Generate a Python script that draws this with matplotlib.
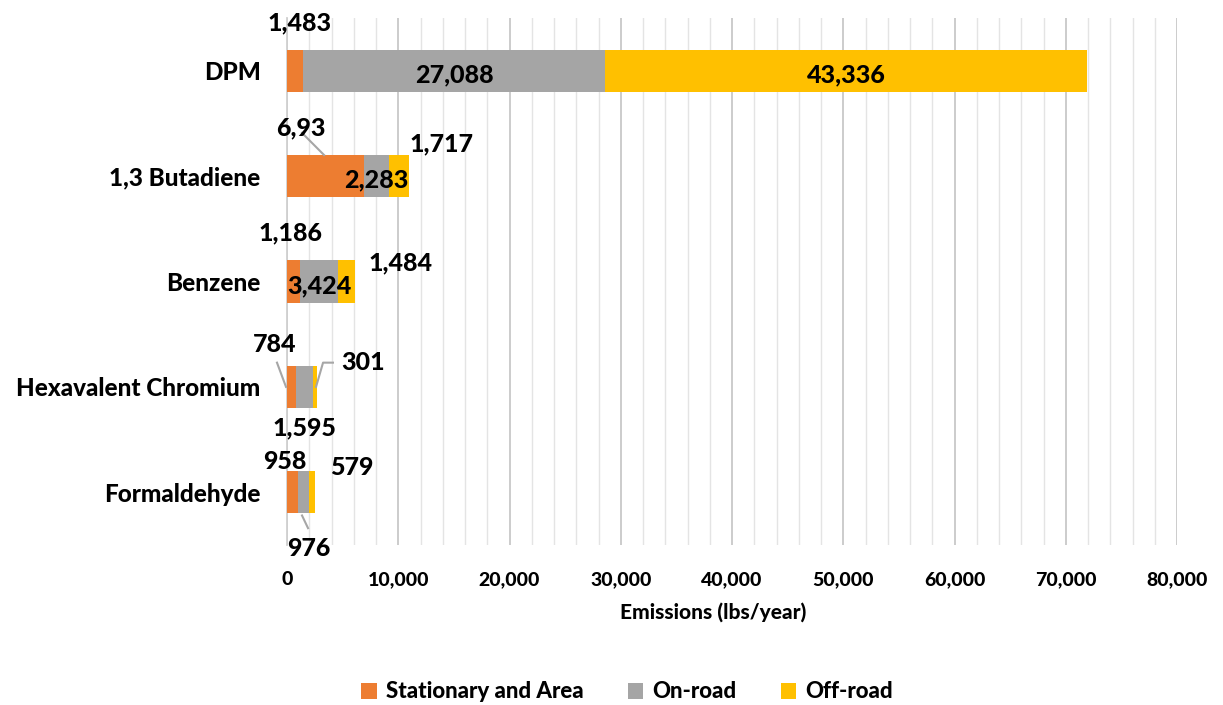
import matplotlib
matplotlib.use("Agg")
import matplotlib.pyplot as plt
from matplotlib.ticker import MultipleLocator, FuncFormatter
from matplotlib.patches import Patch

categories = ["DPM", "1,3 Butadiene", "Benzene", "Hexavalent Chromium", "Formaldehyde"]
series_names = ["Stationary and Area", "On-road", "Off-road"]
stationary = [1483, 6930, 1186, 784, 958]
onroad = [27088, 2283, 3424, 1595, 976]
offroad = [43336, 1717, 1484, 301, 579]
label_text = {
    "stationary": ["1,483", "6,93", "1,186", "784", "958"],
    "onroad": ["27,088", "2,283", "3,424", "1,595", "976"],
    "offroad": ["43,336", "1,717", "1,484", "301", "579"],
}
colors = ["#ED7D31", "#A5A5A5", "#FFC000"]

FONT = "Lato"
W = "black"
plt.rcParams["font.family"] = [FONT, "DejaVu Sans"]
plt.rcParams["font.weight"] = "bold"

fig = plt.figure(figsize=(12.23, 7.05), dpi=100)
ax = fig.add_axes([287/1223, 1-545/705, (1177-287)/1223, (545-18)/705])

y = list(range(len(categories)))
h = 0.4
left2 = [a for a in stationary]
left3 = [a + b for a, b in zip(stationary, onroad)]
ax.barh(y, stationary, height=h, color=colors[0], zorder=3)
ax.barh(y, onroad, height=h, left=left2, color=colors[1], zorder=3)
ax.barh(y, offroad, height=h, left=left3, color=colors[2], zorder=3)

ax.set_xlim(0, 80000)
ax.set_ylim(4.5, -0.5)
ax.xaxis.set_major_locator(MultipleLocator(10000))
ax.xaxis.set_minor_locator(MultipleLocator(2000))
ax.xaxis.set_major_formatter(FuncFormatter(lambda v, p: f"{int(v):,}"))
ax.grid(axis="x", which="major", color="#C8C8C8", lw=1.3, zorder=0)
ax.grid(axis="x", which="minor", color="#E4E4E4", lw=1.0, zorder=0)
ax.set_axisbelow(True)
for s in ["top", "right", "bottom"]:
    ax.spines[s].set_visible(False)
ax.spines["left"].set_color("#D0D0D0")
ax.spines["left"].set_linewidth(1.3)
ax.tick_params(axis="both", which="both", length=0)
ax.tick_params(axis="x", pad=19, labelsize=14)
ax.tick_params(axis="y", pad=19, labelsize=17.5)
ax.set_yticks(y)
ax.set_yticklabels(categories)
for t in ax.get_xticklabels() + ax.get_yticklabels():
    t.set_fontweight(W)
    t.set_color("#000000")

fs = 18
def lab(txt, x, yy):
    ax.text(x, yy, txt, ha="center", va="center", fontsize=fs, fontweight=W, color="black", zorder=5, clip_on=False)

def leader(xs, ys):
    ax.plot(xs, ys, color="#A6A6A6", lw=1.5, zorder=4, clip_on=False)

# DPM
lab(label_text["stationary"][0], 1170, -0.45)
lab(label_text["onroad"][0], stationary[0] + onroad[0] / 2, 0.04)
lab(label_text["offroad"][0], left3[0] + offroad[0] / 2, 0.04)
# 1,3 Butadiene
lab(label_text["stationary"][1], 1260, 0.54)
leader([1350, 3330], [0.59, 0.80])
lab(label_text["onroad"][1], left2[1] + onroad[1] / 2, 1.04)
lab(label_text["offroad"][1], 13930, 0.69)
# Benzene
lab(label_text["stationary"][2], 270, 1.54)
lab(label_text["onroad"][2], left2[2] + onroad[2] / 2, 2.04)
lab(label_text["offroad"][2], 10160, 1.82)
# Hexavalent Chromium
lab(label_text["stationary"][3], -1080, 2.60)
leader([-900, -90], [2.77, 3.0])
lab(label_text["onroad"][3], 1530, 3.39)
lab(label_text["offroad"][3], 6830, 2.77)
leader([2610, 3240, 4130], [3.0, 2.77, 2.77])
# Formaldehyde
lab(label_text["stationary"][4], -180, 3.71)
lab(label_text["onroad"][4], 1980, 4.53)
leader([1350, 1890], [4.22, 4.34])
lab(label_text["offroad"][4], 5840, 3.76)

fig.text(713/1223, 1-612/705, "Emissions (lbs/year)", ha="center", va="center", fontsize=15, fontweight=W)

handles = [Patch(facecolor=c, edgecolor="none") for c in colors]
fig.legend(handles, series_names, loc="center", bbox_to_anchor=(627/1223, 1-692/705), ncol=3,
           frameon=False, prop={"family": FONT, "weight": W, "size": 16},
           handlelength=0.7, handleheight=0.7, handletextpad=0.4, columnspacing=2.0)

fig.savefig("out.png", dpi=100)
